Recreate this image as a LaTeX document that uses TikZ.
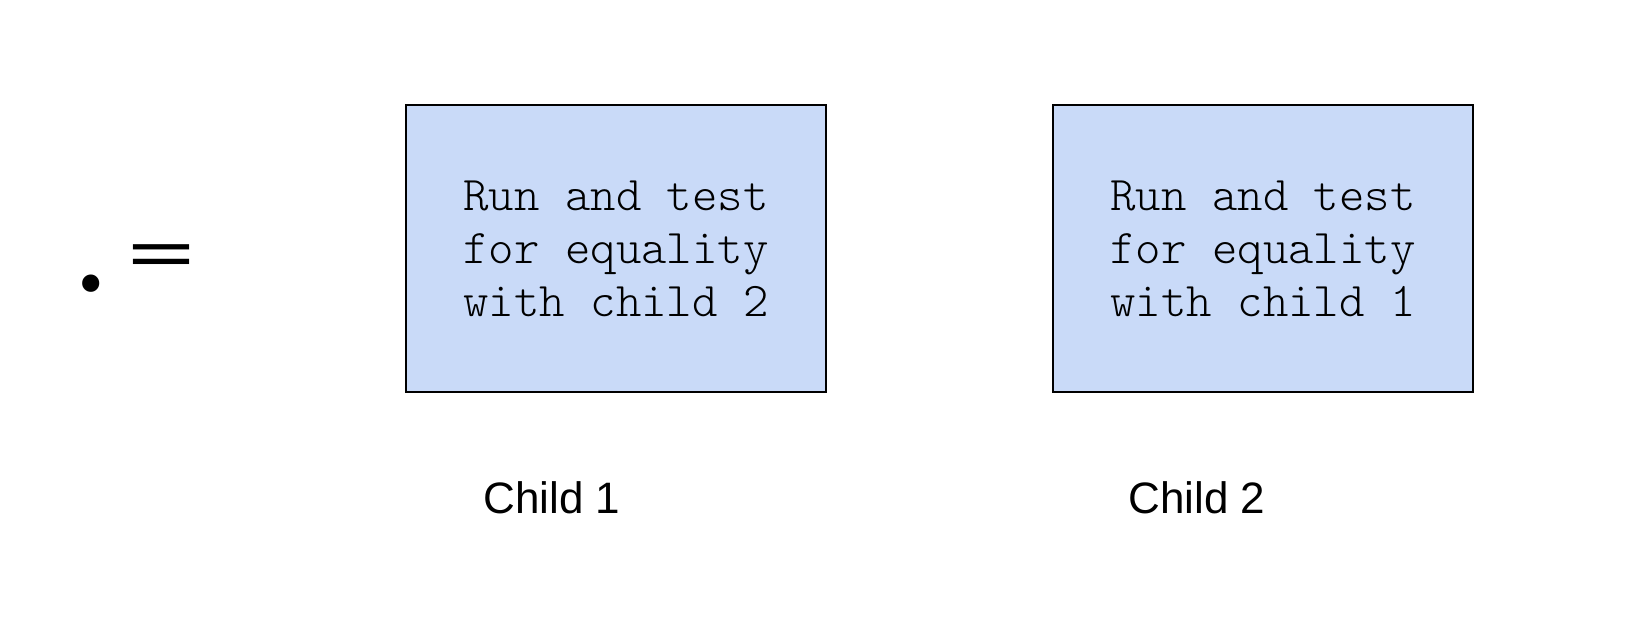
\documentclass[tikz,border=0pt]{standalone}
\usepackage{fontspec}
\setmainfont{Liberation Sans}
\newfontfamily\monof{Latin Modern Mono Light}
\newfontfamily\symbf{Poppins}
\usepackage{graphicx}
\definecolor{boxblue}{HTML}{C9DAF8}
\begin{document}
\begin{tikzpicture}[x=0.5pt,y=-0.5pt,
  testbox/.style={draw=black, line width=1.2pt, fill=boxblue,
    minimum width=210pt, minimum height=143.5pt, inner sep=0pt,
    align=center, font=\monof\fontsize{24.2}{26.5}\selectfont},
  childlabel/.style={anchor=base west, inner sep=0pt, font=\fontsize{22}{25}\selectfont},
  symb/.style={inner sep=0pt}]
\useasboundingbox (0,0) rectangle (1626,622);
\node[symb, anchor=base, font=\symbf\fontsize{70}{70}\selectfont] (dot) at (91,291) {.};
\node[symb, anchor=base west] (eq) at (122,279.4) {\scalebox{1}[0.63]{\symbf\fontsize{54}{54}\selectfont =}};
\node[testbox] (box1) at (616,248.5) {Run and test\\for equality\\with child 2};
\node[testbox] (box2) at (1263,248.5) {Run and test\\for equality\\with child 1};
\node[childlabel] (child1) at (483,513) {Child 1};
\node[childlabel] (child2) at (1128,513) {Child 2};
\end{tikzpicture}
\end{document}
